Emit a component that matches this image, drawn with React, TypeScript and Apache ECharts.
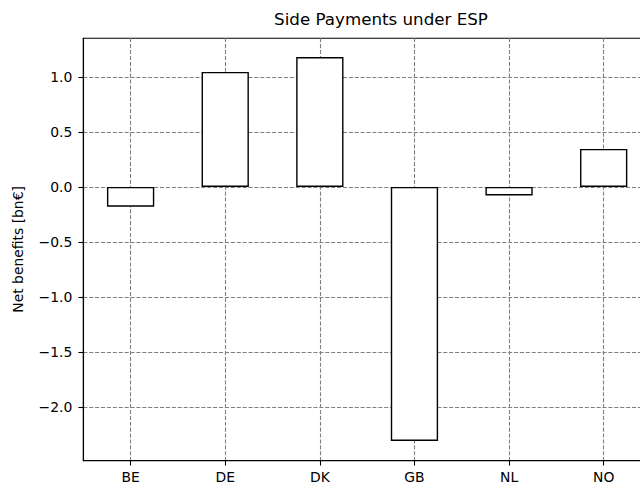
import React, { useEffect, useRef } from "react";
import * as echarts from "echarts";

// Net benefits per country, bn€
const CATEGORIES = ["BE", "DE", "DK", "GB", "NL", "NO"];
const NET_BENEFITS = [-0.18, 1.045, 1.18, -2.31, -0.078, 0.345];
const Y_TICKS = [-2.0, -1.5, -1.0, -0.5, 0.0, 0.5, 1.0];
const X_TICKS = [0, 1, 2, 3, 4, 5];

const FONT = "DejaVu Sans";
const GRID_LINE = { color: "#808080", width: 1.1, type: [4.1, 1.8] as number[] };

function fmtTick(v: number): string {
  const s = Math.abs(v).toFixed(1);
  return v < -1e-9 ? "\u2212" + s : s;
}

export default function App() {
  const ref = useRef<HTMLDivElement>(null);

  useEffect(() => {
    if (!ref.current) return;
    const chart = echarts.init(ref.current, null, { renderer: "svg" });
    chart.setOption({
      animation: false,
      backgroundColor: "#ffffff",
      title: {
        text: "Side Payments under ESP",
        left: 381,
        top: 10,
        padding: 0,
        textAlign: "center",
        textStyle: { fontFamily: FONT, fontSize: 16.7, fontWeight: "normal", color: "#000" },
      },
      grid: {
        left: 83.3,
        top: 38.2,
        width: 567.7,
        height: 422.4,
        show: true,
        borderColor: "#000",
        borderWidth: 1.1,
        backgroundColor: "transparent",
      },
      xAxis: {
        type: "value",
        min: -0.5,
        max: 5.5,
        axisLine: { show: true, onZero: false, lineStyle: { color: "#000", width: 1.1 } },
        axisTick: {
          show: true,
          length: 4.9,
          customValues: X_TICKS,
          lineStyle: { color: "#000", width: 1.1 },
        },
        axisLabel: {
          customValues: X_TICKS,
          formatter: (v: number) => CATEGORIES[Math.round(v)] ?? "",
          fontFamily: FONT,
          fontSize: 13.9,
          color: "#000",
          margin: 9,
        },
        splitLine: { show: true, lineStyle: GRID_LINE },
      },
      yAxis: {
        type: "value",
        min: -2.488,
        max: 1.352,
        name: "Net benefits [bn\u20ac]",
        nameLocation: "middle",
        nameGap: 58,
        nameTextStyle: { fontFamily: FONT, fontSize: 13.9, color: "#000" },
        axisLine: { show: true, onZero: false, lineStyle: { color: "#000", width: 1.1 } },
        axisTick: {
          show: true,
          length: 4.9,
          customValues: Y_TICKS,
          lineStyle: { color: "#000", width: 1.1 },
        },
        axisLabel: {
          customValues: Y_TICKS,
          formatter: (v: number) => fmtTick(v),
          fontFamily: FONT,
          fontSize: 13.9,
          color: "#000",
          margin: 11,
        },
        splitLine: { show: true, lineStyle: GRID_LINE },
      },
      series: [
        {
          type: "bar",
          data: NET_BENEFITS.map((v, i) => [i, v]),
          barWidth: 47.3,
          itemStyle: { color: "#ffffff", borderColor: "#000", borderWidth: 1.4 },
          emphasis: { disabled: true },
        },
      ],
    });
    return () => chart.dispose();
  }, []);

  return (
    <div
      style={{
        position: "fixed",
        left: 0,
        top: 0,
        width: 640,
        height: 484,
        overflow: "hidden",
        background: "#fff",
      }}
    >
      <div ref={ref} style={{ width: 700, height: 484 }} />
    </div>
  );
}
